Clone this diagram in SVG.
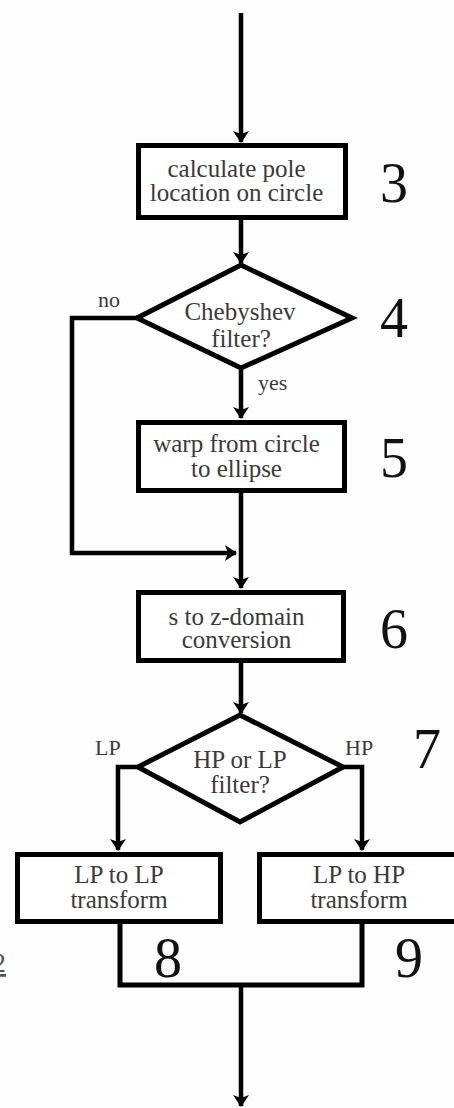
<svg xmlns="http://www.w3.org/2000/svg" width="454" height="1108" viewBox="0 0 454 1108">
<style>
.box{fill:#fff;stroke:#000;stroke-width:5;stroke-linejoin:miter}
.ln{fill:none;stroke:#000;stroke-width:4.5;stroke-linejoin:miter}
.t{font-family:"Liberation Serif","Times New Roman",serif;font-size:25px;fill:#3a3a3a;text-anchor:middle}
.lb{font-family:"Liberation Serif","Times New Roman",serif;font-size:22px;fill:#3a3a3a}
.n{font-family:"Liberation Serif","Times New Roman",serif;font-size:56px;fill:#111}
</style>
<defs>
<marker id="ah" viewBox="0 0 12 16" refX="11" refY="8" markerWidth="12" markerHeight="16" markerUnits="userSpaceOnUse" orient="auto">
<path d="M0,0 L12,8 L0,16 L3,8 Z" fill="#000"/>
</marker>
</defs>
<rect width="454" height="1108" fill="#fdfdfd"/>
<g id="connectors">
<line class="ln" x1="241" y1="13" x2="241" y2="142" marker-end="url(#ah)"/>
<line class="ln" x1="241" y1="220" x2="241" y2="263" marker-end="url(#ah)"/>
<polyline class="ln" points="137,318 72,318 72,553 236,553" marker-end="url(#ah)"/>
<line class="ln" x1="241" y1="368" x2="241" y2="418" marker-end="url(#ah)"/>
<line class="ln" x1="241" y1="493" x2="241" y2="588" marker-end="url(#ah)"/>
<line class="ln" x1="241" y1="663" x2="241" y2="713" marker-end="url(#ah)"/>
<polyline class="ln" points="138,767 118,767 118,850" marker-end="url(#ah)"/>
<polyline class="ln" points="343,767 362,767 362,850" marker-end="url(#ah)"/>
<polyline class="ln" style="stroke-width:5" points="120,924 120,985 362,985 362,924"/>
<line class="ln" x1="241" y1="985" x2="241" y2="1106" marker-end="url(#ah)"/>
<text class="lb" x="98" y="307">no</text>
<text class="lb" x="258" y="390">yes</text>
<text class="lb" x="95" y="755">LP</text>
<text class="lb" x="345" y="755">HP</text>
</g>
<g id="node3">
<rect class="box" x="138.5" y="145.5" width="207" height="72"/>
<text class="t" x="236.5" y="177">calculate pole</text>
<text class="t" x="236.5" y="201">location on circle</text>
<text class="n" x="380" y="202">3</text>
</g>
<g id="node4">
<polygon class="box" points="241,265 352,318 241,368 137,318"/>
<text class="t" x="240" y="320">Chebyshev</text>
<text class="t" x="241" y="347">filter?</text>
<text class="n" x="380" y="337">4</text>
</g>
<g id="node5">
<rect class="box" x="138.5" y="422.5" width="206" height="68"/>
<text class="t" x="236.5" y="452">warp from circle</text>
<text class="t" x="236.5" y="477">to ellipse</text>
<text class="n" x="380" y="477">5</text>
</g>
<g id="node6">
<rect class="box" x="138.5" y="592.5" width="205" height="68"/>
<text class="t" x="236.5" y="625">s to z-domain</text>
<text class="t" x="236.5" y="648">conversion</text>
<text class="n" x="380" y="648">6</text>
</g>
<g id="node7">
<polygon class="box" points="240,715 343,767 240,822 138,767"/>
<text class="t" x="240" y="768">HP or LP</text>
<text class="t" x="240" y="793">filter?</text>
<text class="n" x="413" y="768">7</text>
</g>
<g id="node8">
<rect class="box" x="17.5" y="854.5" width="203" height="67"/>
<text class="t" x="119" y="883">LP to LP</text>
<text class="t" x="119" y="908">transform</text>
<text class="n" x="154" y="977">8</text>
</g>
<g id="node9">
<rect class="box" x="259.5" y="854.5" width="200" height="67"/>
<text class="t" x="359" y="883">LP to HP</text>
<text class="t" x="359" y="908">transform</text>
<text class="n" x="395" y="977">9</text>
</g>
<g id="margin">
<text x="-8" y="972" style="font-family:'Liberation Serif',serif;font-size:28px;fill:#555;text-decoration:underline">2</text>
</g>
</svg>
